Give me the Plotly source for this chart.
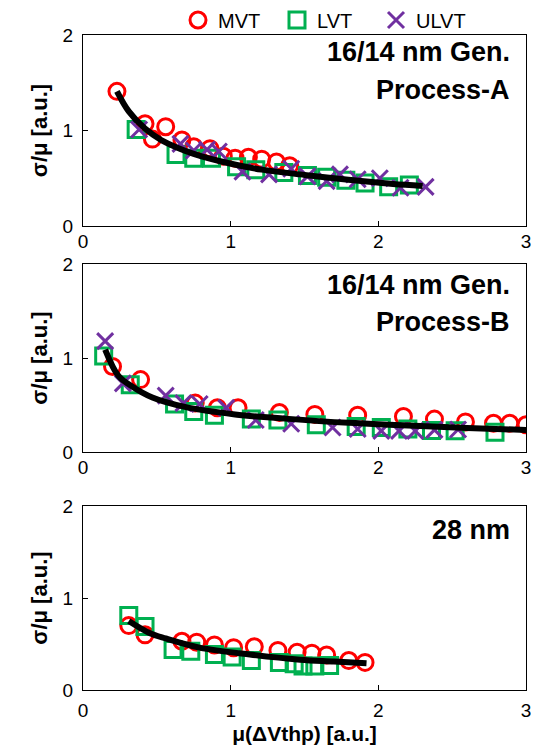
import plotly.graph_objects as go
from plotly.subplots import make_subplots

# ---------------- data ----------------
A_MVT_X = [0.23, 0.42, 0.47, 0.56, 0.67, 0.75, 0.86, 0.95, 1.03, 1.12, 1.21, 1.31, 1.40]
A_MVT_Y = [1.41, 1.07, 0.91, 1.04, 0.90, 0.83, 0.81, 0.73, 0.71, 0.72, 0.70, 0.67, 0.63]
A_LVT_X = [0.36, 0.63, 0.75, 0.87, 1.04, 1.17, 1.36, 1.52, 1.65, 1.78, 1.91, 2.07, 2.21]
A_LVT_Y = [1.01, 0.75, 0.71, 0.71, 0.62, 0.59, 0.56, 0.53, 0.51, 0.48, 0.45, 0.41, 0.43]
A_ULVT_X = [0.38, 0.66, 0.75, 0.84, 0.92, 1.08, 1.26, 1.41, 1.52, 1.65, 1.74, 1.86, 2.01, 2.15, 2.32]
A_ULVT_Y = [1.01, 0.86, 0.79, 0.80, 0.78, 0.57, 0.54, 0.60, 0.52, 0.47, 0.54, 0.49, 0.50, 0.40, 0.41]
A_FIT_X = [0.23, 0.31, 0.42, 0.53, 0.76, 0.98, 1.21, 1.50, 1.70, 1.92, 2.10, 2.30]
A_FIT_Y = [1.41, 1.20, 1.02, 0.90, 0.75, 0.66, 0.59, 0.535, 0.50, 0.465, 0.44, 0.42]

B_MVT_X = [0.20, 0.39, 0.76, 0.91, 1.05, 1.33, 1.57, 1.86, 2.17, 2.38, 2.59, 2.78, 2.89, 3.00]
B_MVT_Y = [0.91, 0.77, 0.52, 0.47, 0.47, 0.42, 0.40, 0.39, 0.377, 0.35, 0.32, 0.305, 0.305, 0.29]
B_LVT_X = [0.14, 0.32, 0.62, 0.75, 0.89, 1.14, 1.32, 1.58, 1.85, 2.02, 2.20, 2.36, 2.52, 2.79]
B_LVT_Y = [1.02, 0.715, 0.51, 0.43, 0.39, 0.35, 0.34, 0.29, 0.27, 0.26, 0.245, 0.23, 0.225, 0.21]
B_ULVT_X = [0.15, 0.27, 0.56, 0.68, 0.79, 0.97, 1.17, 1.41, 1.69, 1.86, 2.02, 2.14, 2.25, 2.38, 2.54]
B_ULVT_Y = [1.18, 0.73, 0.60, 0.52, 0.51, 0.47, 0.34, 0.30, 0.26, 0.245, 0.225, 0.225, 0.225, 0.235, 0.24]
B_FIT_X = [0.15, 0.24, 0.33, 0.47, 0.69, 1.03, 1.37, 1.80, 2.16, 2.60, 3.00]
B_FIT_Y = [1.09, 0.81, 0.70, 0.58, 0.48, 0.40, 0.355, 0.31, 0.285, 0.255, 0.235]

C_MVT_X = [0.31, 0.42, 0.67, 0.77, 0.89, 1.02, 1.16, 1.32, 1.45, 1.55, 1.65, 1.80, 1.91]
C_MVT_Y = [0.70, 0.60, 0.53, 0.52, 0.49, 0.46, 0.47, 0.43, 0.41, 0.40, 0.38, 0.32, 0.30]
C_LVT_X = [0.31, 0.42, 0.61, 0.73, 0.89, 1.01, 1.14, 1.33, 1.43, 1.49, 1.57, 1.67]
C_LVT_Y = [0.81, 0.69, 0.44, 0.42, 0.385, 0.36, 0.32, 0.30, 0.285, 0.26, 0.26, 0.265]
C_FIT_X = [0.31, 0.45, 0.56, 0.79, 1.13, 1.47, 1.70, 1.92]
C_FIT_Y = [0.75, 0.62, 0.56, 0.46, 0.385, 0.33, 0.31, 0.29]

X_TICKS = [0, 1, 2, 3]
Y_TICKS = [0, 1, 2]
SERIES_NAMES = ["MVT", "LVT", "ULVT"]
PANEL_LABELS = [["16/14 nm Gen.", "Process-A"], ["16/14 nm Gen.", "Process-B"], ["28 nm"]]
X_TITLE = "μ(ΔVthp) [a.u.]"
Y_TITLE = "σ/μ [a.u.]"

# ---------------- styling ----------------
FONT = "Liberation Sans, Arial, sans-serif"
RED = "#FF0000"
GREEN = "#00B050"
PURPLE = "#7030A0"
MS = 16

fig = make_subplots(rows=3, cols=1)

def add_panel(row, mvt, lvt, ulvt, fit, legend):
    if mvt:
        fig.add_trace(go.Scatter(x=mvt[0], y=mvt[1], mode="markers", name=SERIES_NAMES[0],
                                 showlegend=legend,
                                 marker=dict(symbol="circle-open", size=MS, color=RED,
                                             line=dict(width=3, color=RED))), row=row, col=1)
    if lvt:
        fig.add_trace(go.Scatter(x=lvt[0], y=lvt[1], mode="markers", name=SERIES_NAMES[1],
                                 showlegend=legend,
                                 marker=dict(symbol="square-open", size=MS, color=GREEN,
                                             line=dict(width=3, color=GREEN))), row=row, col=1)
    if ulvt:
        fig.add_trace(go.Scatter(x=ulvt[0], y=ulvt[1], mode="markers", name=SERIES_NAMES[2],
                                 showlegend=legend,
                                 marker=dict(symbol="x-thin", size=MS, color=PURPLE,
                                             line=dict(width=3, color=PURPLE))), row=row, col=1)
    fig.add_trace(go.Scatter(x=fit[0], y=fit[1], mode="lines", showlegend=False,
                             line=dict(color="black", width=6, shape="spline", smoothing=1.0)),
                  row=row, col=1)

add_panel(1, (A_MVT_X, A_MVT_Y), (A_LVT_X, A_LVT_Y), (A_ULVT_X, A_ULVT_Y), (A_FIT_X, A_FIT_Y), True)
add_panel(2, (B_MVT_X, B_MVT_Y), (B_LVT_X, B_LVT_Y), (B_ULVT_X, B_ULVT_Y), (B_FIT_X, B_FIT_Y), False)
add_panel(3, (C_MVT_X, C_MVT_Y), (C_LVT_X, C_LVT_Y), None, (C_FIT_X, C_FIT_Y), False)

# page has an 8px body margin; figure sized to fill the window
OFF = 8
W, H = 539 - OFF, 751 - OFF
ML, MR, MT, MB = 83 - OFF, 13, 35 - OFF, 61
PH = H - MT - MB
PW = W - ML - MR

def py(p):  # screen y -> paper y
    return (H - MB - (p - OFF)) / PH

def px(p):  # screen x -> paper x
    return ((p - OFF) - ML) / PW

domains = [(py(226), py(35)), (py(452), py(264)), (py(690), py(506))]
xstand = [-2, -2, 3]

axis_common = dict(showline=True, mirror=True, linecolor="black", linewidth=1.3,
                   ticks="inside", ticklen=5, tickwidth=1.3, tickcolor="black",
                   showgrid=False, zeroline=False, automargin=False,
                   tickfont=dict(family=FONT, size=19, color="black"))

for i in range(3):
    n = "" if i == 0 else str(i + 1)
    fig.layout["xaxis" + n].update(range=[0, 3], tickvals=X_TICKS, ticklabelstandoff=xstand[i],
                                   **axis_common)
    fig.layout["yaxis" + n].update(range=[0, 2], tickvals=Y_TICKS, domain=list(domains[i]),
                                   ticklabelstandoff=5,
                                   title=dict(text=Y_TITLE, standoff=8,
                                              font=dict(family=FONT, size=22, color="black",
                                                        weight="bold")),
                                   **axis_common)

fig.layout["xaxis3"].update(title=dict(text=X_TITLE, standoff=6,
                                       font=dict(family=FONT, size=21, color="black", weight="bold")))

# panel labels
label_pos = [[52, 90], [285, 322], [530]]
for i, lines in enumerate(PANEL_LABELS):
    for txt, yp in zip(lines, label_pos[i]):
        fig.add_annotation(text="<b>%s</b>" % txt, xref="paper", yref="paper",
                           x=px(512), y=py(yp), xanchor="right", yanchor="middle",
                           showarrow=False, font=dict(family=FONT, size=27, color="black"))

fig.update_layout(
    width=W, height=H,
    margin=dict(l=ML, r=MR, t=MT, b=MB, autoexpand=False),
    paper_bgcolor="white", plot_bgcolor="white",
    font=dict(family=FONT, color="black"),
    showlegend=True,
    legend=dict(orientation="h", x=px(178), xanchor="left",
                y=py(20), yanchor="middle", font=dict(family=FONT, size=20, color="black"),
                bgcolor="rgba(0,0,0,0)", entrywidth=54, itemwidth=30,
                tracegroupgap=0),
)

fig.write_html("out.html")
